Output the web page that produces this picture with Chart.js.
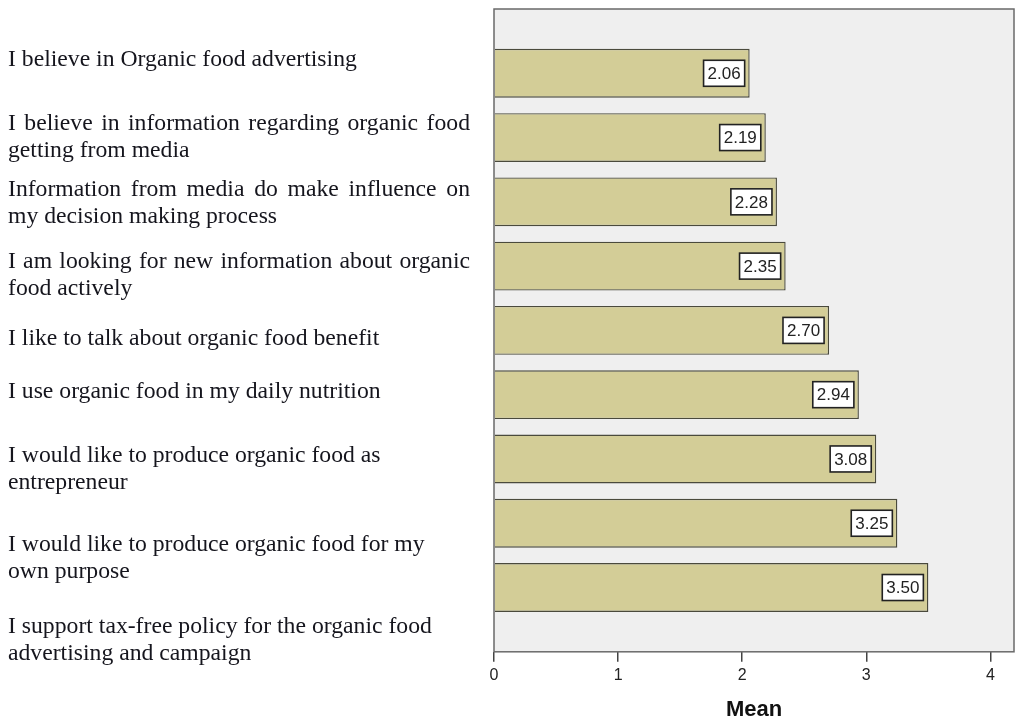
<!DOCTYPE html>
<html>
<head>
<meta charset="utf-8">
<script src="https://cdn.jsdelivr.net/npm/chart.js@4.4.1/dist/chart.umd.min.js"></script>
<style>
  html, body { margin: 0; padding: 0; background: #fff; }
  #wrap { position: relative; width: 1015px; height: 718px; overflow: hidden; }
  #chart { position: absolute; left: 0; top: 0; }
  .stmt {
    position: absolute;
    left: 8px;
    font-family: "Liberation Serif", "Times New Roman", serif;
    font-size: 23.7px;
    line-height: 27px;
    color: #15151d;
    white-space: nowrap;
  }
  .stmt div { white-space: nowrap; }
  .stmt div.just { width: 462px; white-space: normal; text-align: justify; text-align-last: justify; }
</style>
</head>
<body>
<div id="wrap">
  <canvas id="chart" width="1015" height="718"></canvas>
</div>
<script>
// statements (left side text), one array of lines each
const statements = [
  ['I believe in Organic food advertising'],
  ['I believe in information regarding organic food', 'getting from media'],
  ['Information from media do make influence on', 'my decision making process'],
  ['I am looking for new information about organic', 'food actively'],
  ['I like to talk about organic food benefit'],
  ['I use organic food in my daily nutrition'],
  ['I would like to produce organic food as', 'entrepreneur'],
  ['I would like to produce organic food for my', 'own purpose'],
  ['I support tax-free policy for the organic food', 'advertising and campaign']
];
const means = [2.06, 2.19, 2.28, 2.35, 2.70, 2.94, 3.08, 3.25, 3.50];
const meanTicks = [0, 1, 2, 3, 4];
const axisTitle = 'Mean';

// text layout of the statements (page offsets, not data)
const stmtTops = [44.7, 108.7, 175.2, 246.7, 323.7, 376.7, 440.7, 529.7, 611.7];
const justified = [false, true, true, true, false, false, false, false, false];

const wrap = document.getElementById('wrap');
statements.forEach(function (lines, i) {
  const block = document.createElement('div');
  block.className = 'stmt';
  block.style.top = stmtTops[i] + 'px';
  lines.forEach(function (line, j) {
    const row = document.createElement('div');
    if (justified[i] && j === 0) row.className = 'just';
    row.textContent = line;
    block.appendChild(row);
  });
  wrap.appendChild(block);
});

const plotFrame = {
  id: 'plotFrame',
  beforeDraw(chart) {
    const ctx = chart.ctx, a = chart.chartArea;
    ctx.save();
    ctx.fillStyle = '#efefef';
    ctx.fillRect(a.left, a.top, a.right - a.left, a.bottom - a.top);
    ctx.restore();
  },
  afterDatasetsDraw(chart) {
    const ctx = chart.ctx, a = chart.chartArea;
    ctx.save();
    ctx.strokeStyle = '#6a6a6a';
    ctx.lineWidth = 1.5;
    ctx.strokeRect(a.left, a.top, a.right - a.left, a.bottom - a.top);

    // value boxes at the end of each bar
    ctx.font = '17px "Liberation Sans", Arial, sans-serif';
    ctx.textAlign = 'center';
    ctx.textBaseline = 'middle';
    chart.getDatasetMeta(0).data.forEach(function (bar, i) {
      const txt = means[i].toFixed(2);
      const w = ctx.measureText(txt).width + 8;
      const h = 26;
      const x = bar.x - 5 - w;
      const y = bar.y - h / 2;
      ctx.fillStyle = '#ffffff';
      ctx.fillRect(x, y, w, h);
      ctx.strokeStyle = '#222';
      ctx.lineWidth = 1.6;
      ctx.strokeRect(x, y, w, h);
      ctx.fillStyle = '#222';
      ctx.fillText(txt, x + w / 2, bar.y + 1);
    });
    ctx.restore();
  }
};

new Chart(document.getElementById('chart'), {
  type: 'bar',
  data: {
    datasets: [{
      data: means.map(function (v, i) { return { x: v, y: i + 1 }; }),
      backgroundColor: '#d3cd97',
      borderColor: '#4a4a3c',
      borderWidth: 1.4,
      barPercentage: 0.76,
      categoryPercentage: 1
    }]
  },
  options: {
    indexAxis: 'y',
    responsive: false,
    animation: false,
    devicePixelRatio: 1,
    layout: { padding: { left: 494, top: 9, right: 1, bottom: -3 } },
    plugins: { legend: { display: false }, tooltip: { enabled: false } },
    scales: {
      y: {
        type: 'linear',
        min: 0,
        max: means.length + 1,
        reverse: true,
        offset: false,
        display: false
      },
      x: {
        type: 'linear',
        min: 0,
        max: 4.19,
        afterBuildTicks(scale) {
          scale.ticks = meanTicks.map(function (v) { return { value: v }; });
        },
        grid: { drawOnChartArea: false, drawTicks: true, tickLength: 10, color: '#444', lineWidth: 1.5 },
        border: { display: false },
        ticks: {
          padding: 4,
          color: '#222',
          font: { family: '"Liberation Sans", Arial, sans-serif', size: 16 }
        },
        title: {
          display: true,
          text: axisTitle,
          color: '#111',
          padding: { top: 10, bottom: 0 },
          font: { family: '"Liberation Sans", Arial, sans-serif', size: 22, weight: 'bold', lineHeight: 1 }
        }
      }
    }
  },
  plugins: [plotFrame]
});
</script>
</body>
</html>
